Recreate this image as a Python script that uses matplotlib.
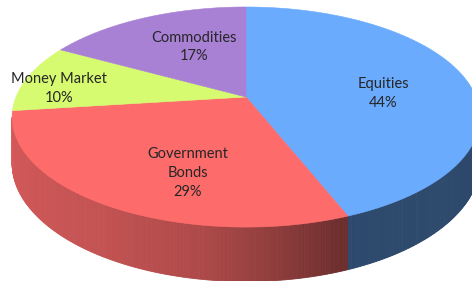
import numpy as np
import matplotlib
matplotlib.use("Agg")
import matplotlib.pyplot as plt
from matplotlib.patches import Polygon

# data (clockwise from 12 o'clock)
names = ["Equities", "Government\nBonds", "Money Market", "Commodities"]
values = [44, 29, 10, 17]
top_colors = ["#6aabfd", "#fe6b6b", "#d6fa70", "#a881d5"]

# label placement (fraction of radius, angle nudge in degrees)
label_r = [0.60, 0.67, 0.83, 0.57]
label_shift = [8, -11, -5, 5]

# pie geometry in pixel space (perspective ellipse)
CX, CY = 246.0, 97.0     # projected centre of the pie top
A, B = 230.0, 106.4      # horizontal / vertical radius scale
Q = 0.182                # perspective strength
D = 44.5                 # thickness of the pie


def project(theta_deg, r=1.0, drop=0.0):
    t = np.radians(theta_deg)
    u = r * np.sin(t)
    v = r * np.cos(t)
    den = 1 + Q * v
    return CX + A * u / den, CY - B * v / den + drop / den


# side shading vs angle (lit from the left)
shade_theta = [100, 160, 177, 190, 212, 260]
shade_f = [0.42, 0.43, 0.59, 0.69, 0.77, 0.84]

fig = plt.figure(figsize=(4.72, 2.81), dpi=100)
ax = fig.add_axes([0, 0, 1, 1])
ax.set_xlim(0, 472)
ax.set_ylim(281, 0)
ax.axis("off")

total = float(sum(values))
bounds = np.concatenate([[0], np.cumsum(values) / total * 360])

# side wall (only the part facing the viewer)
th_lo = np.degrees(np.arccos(-Q))
th_hi = 360 - th_lo
steps = np.arange(th_lo, th_hi, 0.5)
steps = np.append(steps, th_hi)
for t1, t2 in zip(steps[:-1], steps[1:]):
    mid = 0.5 * (t1 + t2)
    idx = np.searchsorted(bounds, mid) - 1
    base = np.array(matplotlib.colors.to_rgb(top_colors[idx]))
    col = np.clip(base * np.interp(mid, shade_theta, shade_f), 0, 1)
    x1, y1 = project(t1)
    x2, y2 = project(t2)
    x3, y3 = project(t2, drop=D)
    x4, y4 = project(t1, drop=D)
    ax.add_patch(Polygon([(x1, y1), (x2, y2), (x3, y3), (x4, y4)],
                         closed=True, facecolor=col, edgecolor=col, lw=0.6))

# top faces
for i in range(len(values)):
    th = np.linspace(bounds[i], bounds[i + 1], 200)
    xs, ys = project(th)
    pts = [(CX, CY)] + list(zip(xs, ys))
    ax.add_patch(Polygon(pts, closed=True, facecolor=top_colors[i],
                         edgecolor=top_colors[i], lw=0.4))

# labels
for i, name in enumerate(names):
    mid = 0.5 * (bounds[i] + bounds[i + 1]) + label_shift[i]
    lx, ly = project(mid, r=label_r[i])
    pct = round(values[i] / total * 100)
    ax.text(lx, ly, f"{name}\n{pct}%", ha="center", va="center",
            fontsize=10.5, family="Lato", color="#262626", linespacing=1.45)

fig.savefig("out.png", dpi=100)
